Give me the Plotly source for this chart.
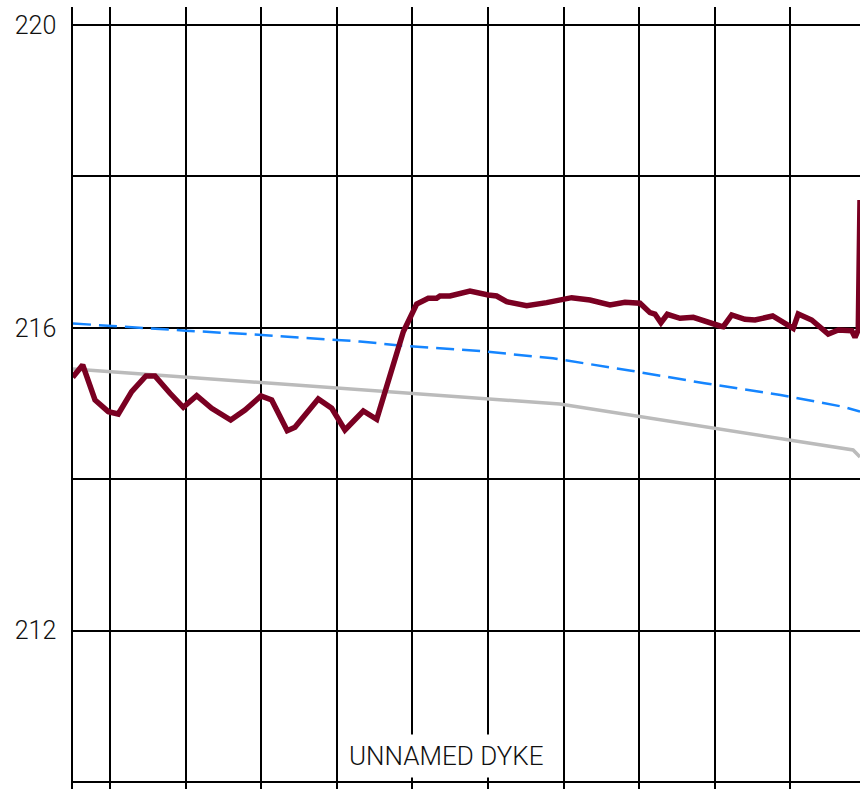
import plotly.graph_objects as go

# Ground profile (maroon)
ground_x = [0.507, 0.639, 0.802, 0.978, 1.110, 1.287, 1.476, 1.595, 1.794, 1.970,
            2.147, 2.345, 2.597, 2.786, 2.997, 3.139, 3.345, 3.447, 3.755, 3.933,
            4.108, 4.351, 4.528, 4.880, 5.057, 5.210, 5.321, 5.365, 5.497, 5.762,
            6.004, 6.115, 6.247, 6.512, 6.776, 7.107, 7.349, 7.614, 7.812, 8.011,
            8.143, 8.209, 8.288, 8.372, 8.540, 8.716, 9.069, 9.112, 9.224, 9.399,
            9.532, 9.766, 10.038, 10.104, 10.282, 10.501, 10.634, 10.811, 10.855, 10.898,
            10.921]
ground_y = [215.346, 215.509, 215.046, 214.892, 214.861, 215.156, 215.363, 215.363, 215.135, 214.950,
            215.103, 214.937, 214.782, 214.914, 215.099, 215.046, 214.641, 214.686, 215.059, 214.937,
            214.650, 214.901, 214.791, 215.948, 216.314, 216.390, 216.390, 216.420, 216.420, 216.486,
            216.433, 216.420, 216.345, 216.292, 216.332, 216.398, 216.367, 216.301, 216.337, 216.324,
            216.200, 216.182, 216.067, 216.178, 216.125, 216.139, 216.024, 216.015, 216.169, 216.112,
            216.103, 216.156, 215.993, 216.182, 216.103, 215.918, 215.971, 215.962, 215.874, 215.971,
            217.688]

# Blue dashed level
blue_x = [0.511, 1.0, 2.005, 3.011, 4.307, 4.902, 5.894, 6.860, 7.873, 8.865, 9.870, 10.690, 10.921]
blue_y = [216.057, 216.024, 215.962, 215.905, 215.819, 215.760, 215.693, 215.597, 215.436, 215.267,
          215.112, 214.958, 214.892]

# Grey level
grey_x = [0.511, 6.950, 10.830, 10.921]
grey_y = [215.456, 214.993, 214.386, 214.293]

y_major = [212, 216, 220]
y_minor = [210, 214, 218]
label_text = "UNNAMED DYKE"
label_x = 5.444
label_y = 210.343

FONT = "Roboto"

fig = go.Figure()
fig.add_trace(go.Scatter(x=grey_x, y=grey_y, mode="lines",
                         line=dict(color="#BBBBBB", width=3.5), hoverinfo="skip"))
fig.add_trace(go.Scatter(x=blue_x, y=blue_y, mode="lines",
                         line=dict(color="#1585FF", width=2.5, dash="18px,8px"), hoverinfo="skip"))
fig.add_trace(go.Scatter(x=ground_x, y=ground_y, mode="lines",
                         line=dict(color="#7A0022", width=5.5), hoverinfo="skip"))

fig.add_annotation(x=label_x, y=label_y, xref="x", yref="y", text=label_text,
                   showarrow=False, bgcolor="white", borderpad=6,
                   font=dict(family=FONT, size=26, color="#111111", weight=300))

fig.update_layout(
    width=860, height=789,
    margin=dict(l=73, r=0, t=7, b=0),
    plot_bgcolor="white", paper_bgcolor="white",
    showlegend=False,
    font=dict(family=FONT, size=25, color="#111111", weight=300),
)
fig.update_xaxes(range=[0.511, 10.921], tick0=0, dtick=1, showgrid=True,
                 gridcolor="#000000", gridwidth=1.5, showticklabels=False,
                 zeroline=False, showline=False, ticks="")
fig.update_yaxes(range=[209.907, 220.238], tickvals=y_major, ticktext=[str(v) for v in y_major],
                 showgrid=True, gridcolor="#000000", gridwidth=1.5,
                 minor=dict(tickvals=y_minor, showgrid=True, gridcolor="#000000", gridwidth=1.5, ticks=""),
                 zeroline=False, showline=True, linecolor="#000000", linewidth=1.5,
                 ticks="", ticklabelstandoff=10)

fig.write_html("out.html", config={"displayModeBar": False},
               post_script="document.body.style.margin='0';document.body.style.overflow='hidden';")
